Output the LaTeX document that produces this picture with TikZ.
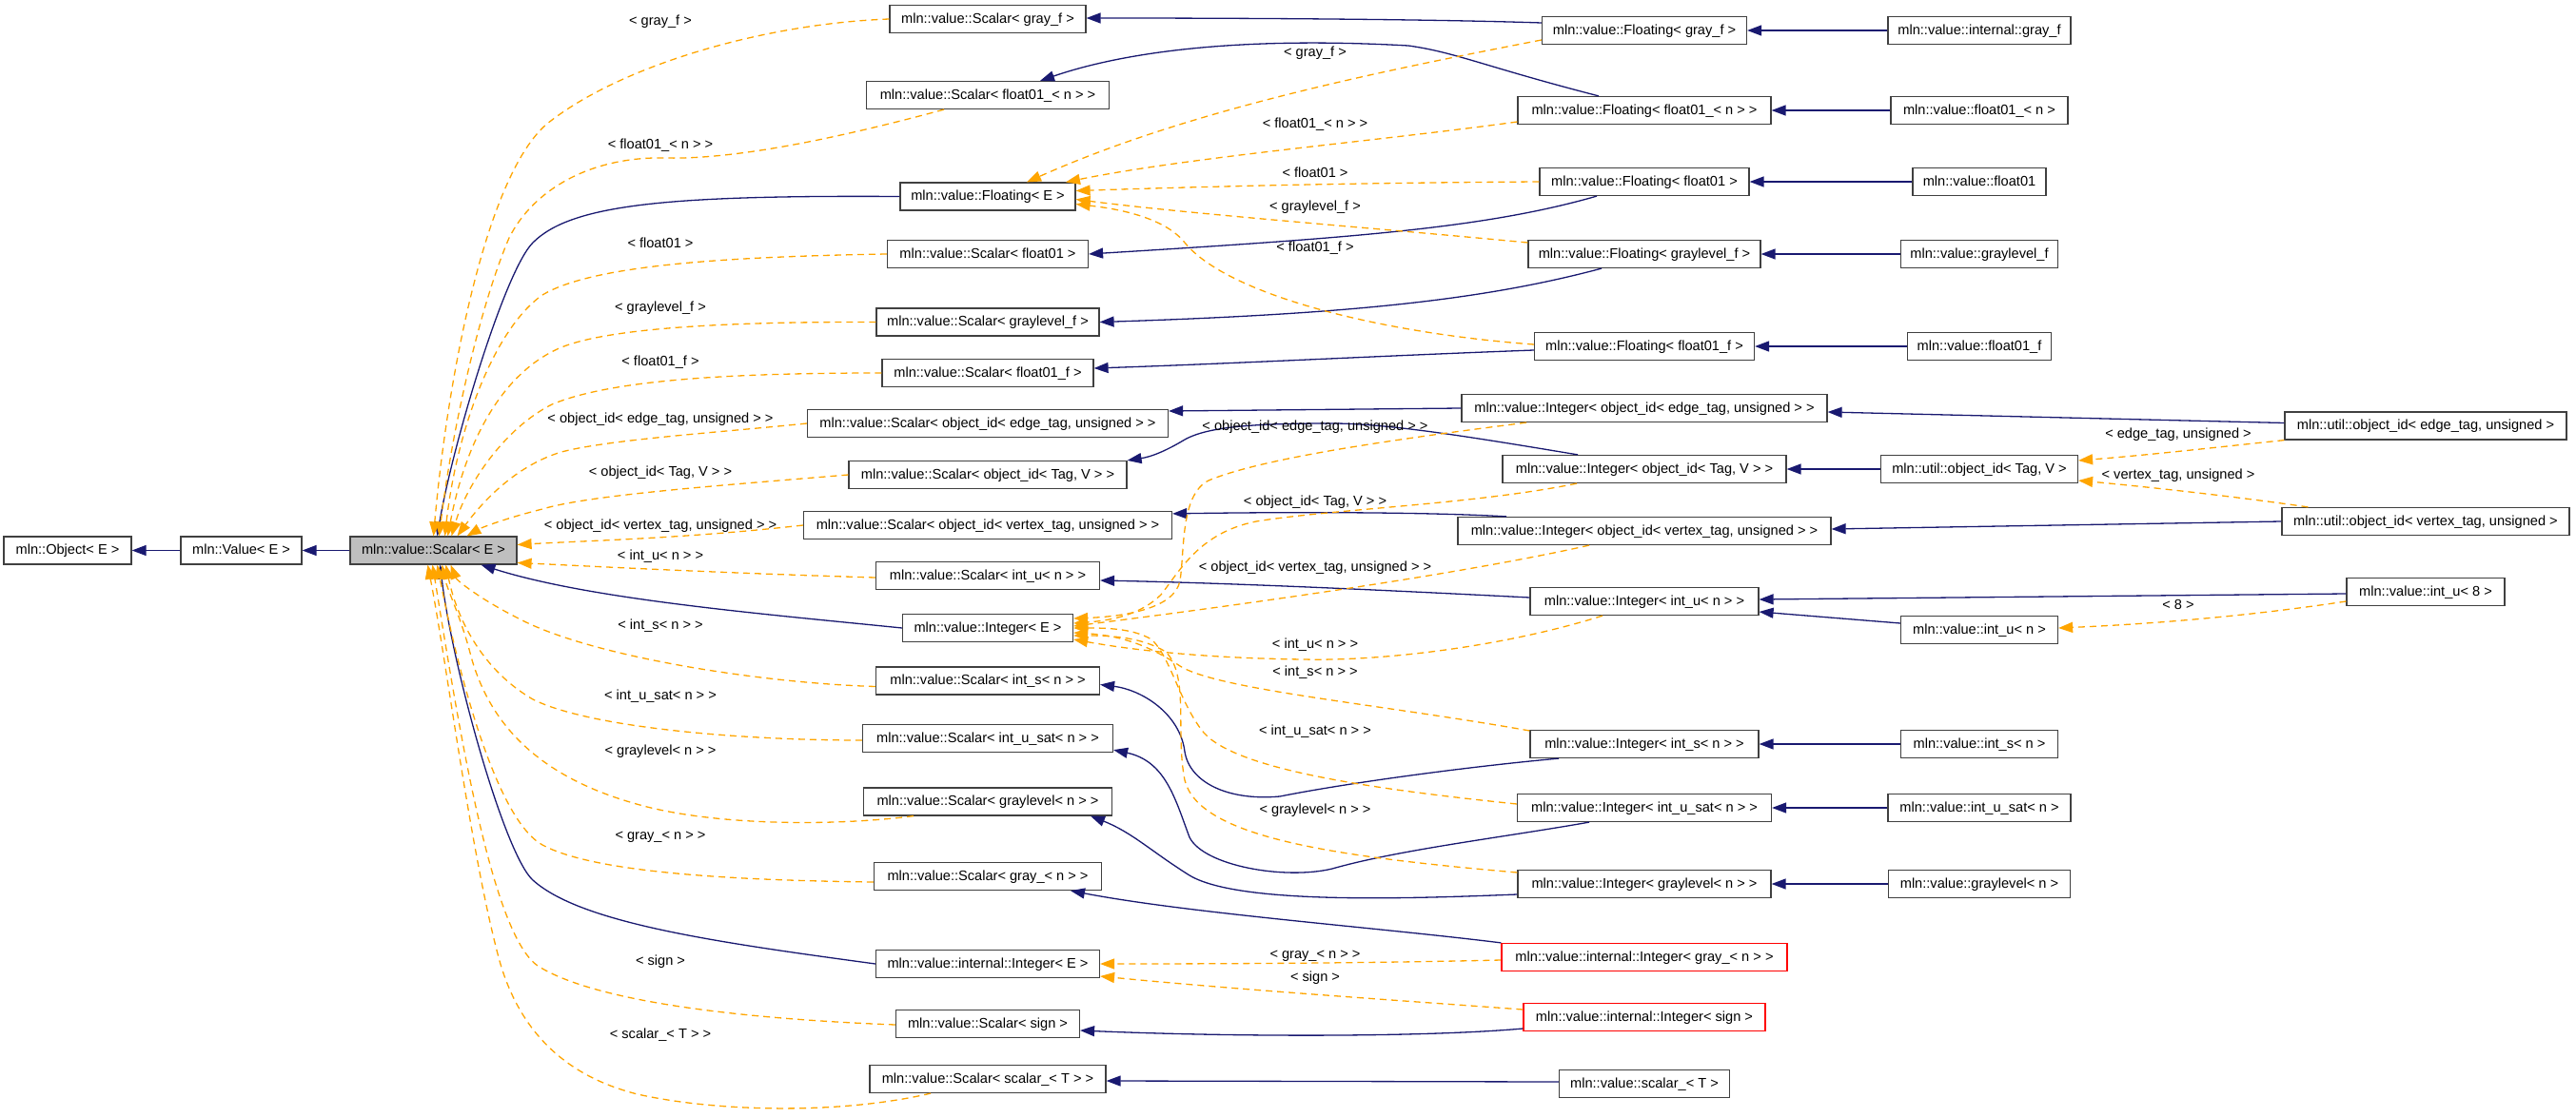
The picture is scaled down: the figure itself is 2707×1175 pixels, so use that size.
\documentclass[tikz,border=0pt]{standalone}
\usepackage{fontspec}
\setmainfont{Liberation Sans}
\usetikzlibrary{arrows.meta}
\definecolor{navy}{HTML}{191970}
\definecolor{orng}{HTML}{FFA500}
\definecolor{bord}{HTML}{404040}
\definecolor{grayfill}{HTML}{BFBFBF}
\tikzset{
 box/.style={draw=bord, line width=1.2pt, fill=white, minimum height=29pt, inner sep=0pt,
   text height=11pt, text depth=3pt, font=\fontsize{14.6}{17}\selectfont},
 redbox/.style={box, draw=red},
 lbl/.style={inner sep=0pt, text height=11pt, text depth=3pt, font=\fontsize{14.6}{17}\selectfont},
 inh/.style={draw=navy, line width=1.3pt, -{Triangle[length=15pt,width=11pt]}},
 tmpl/.style={draw=orng, line width=1.3pt, dash pattern=on 7pt off 5pt, -{Triangle[length=15pt,width=11pt]}},
}
\begin{document}
\begin{tikzpicture}[x=1pt,y=-1pt]
\useasboundingbox (0,0) rectangle (2707,1175);
% left column
\node[box, minimum width=134pt] (obj) at (71,578.5) {mln::Object< E >};
\node[box, minimum width=127pt] (val) at (253.5,578.5) {mln::Value< E >};
\node[box, minimum width=175pt, fill=grayfill] (sca) at (455.5,578.5) {mln::value::Scalar< E >};
% middle column
\node[box, minimum width=206pt] (sGF) at (1038,20) {mln::value::Scalar< gray\_f >};
\node[box, minimum width=255pt] (sF01n) at (1038,100) {mln::value::Scalar< float01\_< n > >};
\node[box, minimum width=184pt] (flE) at (1038,206.5) {mln::value::Floating< E >};
\node[box, minimum width=211pt] (sF01) at (1038,267) {mln::value::Scalar< float01 >};
\node[box, minimum width=234pt] (sGLf) at (1038,338.5) {mln::value::Scalar< graylevel\_f >};
\node[box, minimum width=222pt] (sF01f) at (1038,392) {mln::value::Scalar< float01\_f >};
\node[box, minimum width=379pt] (sOE) at (1038,445) {mln::value::Scalar< object\_id< edge\_tag, unsigned > >};
\node[box, minimum width=292pt] (sOT) at (1038,499) {mln::value::Scalar< object\_id< Tag, V > >};
\node[box, minimum width=387pt] (sOV) at (1038,552) {mln::value::Scalar< object\_id< vertex\_tag, unsigned > >};
\node[box, minimum width=235pt] (sIU) at (1038,605) {mln::value::Scalar< int\_u< n > >};
\node[box, minimum width=179pt] (inE) at (1038,660) {mln::value::Integer< E >};
\node[box, minimum width=235pt] (sIS) at (1038,715.5) {mln::value::Scalar< int\_s< n > >};
\node[box, minimum width=263pt] (sIUS) at (1038,776) {mln::value::Scalar< int\_u\_sat< n > >};
\node[box, minimum width=261pt] (sGL) at (1038,842.5) {mln::value::Scalar< graylevel< n > >};
\node[box, minimum width=239pt] (sG) at (1038,921) {mln::value::Scalar< gray\_< n > >};
\node[box, minimum width=235pt] (iiE) at (1038,1013) {mln::value::internal::Integer< E >};
\node[box, minimum width=193pt] (sS) at (1038,1076) {mln::value::Scalar< sign >};
\node[box, minimum width=248pt] (sST) at (1038,1134) {mln::value::Scalar< scalar\_< T > >};
% middle-right column
\node[box, minimum width=215pt] (fGF) at (1728,32) {mln::value::Floating< gray\_f >};
\node[box, minimum width=266pt] (fF01n) at (1728,116) {mln::value::Floating< float01\_< n > >};
\node[box, minimum width=220pt] (fF01) at (1728,191) {mln::value::Floating< float01 >};
\node[box, minimum width=244pt] (fGLf) at (1728,267) {mln::value::Floating< graylevel\_f >};
\node[box, minimum width=231pt] (fF01f) at (1728,364) {mln::value::Floating< float01\_f >};
\node[box, minimum width=384pt] (iOE) at (1728,429) {mln::value::Integer< object\_id< edge\_tag, unsigned > >};
\node[box, minimum width=298pt] (iOT) at (1728,493) {mln::value::Integer< object\_id< Tag, V > >};
\node[box, minimum width=392pt] (iOV) at (1728,558) {mln::value::Integer< object\_id< vertex\_tag, unsigned > >};
\node[box, minimum width=240pt] (iIU) at (1728,632) {mln::value::Integer< int\_u< n > >};
\node[box, minimum width=240pt] (iIS) at (1728,782) {mln::value::Integer< int\_s< n > >};
\node[box, minimum width=267pt] (iIUS) at (1728,849) {mln::value::Integer< int\_u\_sat< n > >};
\node[box, minimum width=266pt] (iGL) at (1728,929) {mln::value::Integer< graylevel< n > >};
\node[redbox, minimum width=300pt] (iiG) at (1728,1006) {mln::value::internal::Integer< gray\_< n > >};
\node[redbox, minimum width=254pt] (iiS) at (1728,1069) {mln::value::internal::Integer< sign >};
\node[box, minimum width=179pt] (sc) at (1728,1139) {mln::value::scalar\_< T >};
% right column
\node[box, minimum width=192pt] (gf) at (2080,32) {mln::value::internal::gray\_f};
\node[box, minimum width=186pt] (f01n) at (2080,116) {mln::value::float01\_< n >};
\node[box, minimum width=140pt] (f01) at (2080,191) {mln::value::float01};
\node[box, minimum width=165pt] (glf) at (2080,267) {mln::value::graylevel\_f};
\node[box, minimum width=151pt] (f01f) at (2080,364) {mln::value::float01\_f};
\node[box, minimum width=207pt] (uoT) at (2080,493) {mln::util::object\_id< Tag, V >};
\node[box, minimum width=165pt] (iun) at (2080,662) {mln::value::int\_u< n >};
\node[box, minimum width=165pt] (isn) at (2080,782) {mln::value::int\_s< n >};
\node[box, minimum width=192pt] (iusn) at (2080,849) {mln::value::int\_u\_sat< n >};
\node[box, minimum width=191pt] (gln) at (2080,929) {mln::value::graylevel< n >};
% far right
\node[box, minimum width=296pt] (uoE) at (2549,447.5) {mln::util::object\_id< edge\_tag, unsigned >};
\node[box, minimum width=302pt] (uoV) at (2549,548) {mln::util::object\_id< vertex\_tag, unsigned >};
\node[box, minimum width=166pt] (iu8) at (2549,622) {mln::value::int\_u< 8 >};

% ---- solid inheritance edges
\draw[inh] (val.west) -- (obj.east);
\draw[inh] (sca.west) -- (val.east);
\draw[inh] (flE.west) .. controls (700,205) and (600,215) .. (560,255) .. controls (530,285) and (475,470) .. ([xshift=4pt]sca.north);
\draw[inh] (inE.west) .. controls (800,645) and (620,630) .. ([xshift=50pt]sca.south);
\draw[inh] (iiE.west) .. controls (750,990) and (610,970) .. (560,925) .. controls (530,898) and (475,700) .. ([xshift=7pt]sca.south);

\draw[inh] ([yshift=8pt]fGF.west) .. controls (1500,20) and (1300,19) .. ([yshift=1pt]sGF.east);
\draw[inh] ([xshift=-48pt]fF01n.north) .. controls (1560,70) and (1530,55) .. (1480,48) .. controls (1300,38) and (1180,55) .. ([xshift=55pt]sF01n.north);
\draw[inh] ([xshift=-50pt]fF01.south) .. controls (1560,240) and (1420,250) .. (sF01.east);
\draw[inh] ([xshift=-45pt]fGLf.south) .. controls (1560,315) and (1420,330) .. (sGLf.east);
\draw[inh] ([yshift=-4pt]fF01f.west) .. controls (1450,374) and (1300,382) .. ([yshift=5pt]sF01f.east);
\draw[inh] (gf.west) -- (fGF.east);
\draw[inh] (f01n.west) -- (fF01n.east);
\draw[inh] (f01.west) -- (fF01.east);
\draw[inh] (glf.west) -- (fGLf.east);
\draw[inh] (f01f.west) -- (fF01f.east);

\draw[inh] (iOE.west) -- ([yshift=13pt]sOE.east);
\draw[inh] ([xshift=-70pt]iOT.north) .. controls (1550,460) and (1460,445) .. (1400,445) .. controls (1320,445) and (1270,448) .. (1245,462) .. controls (1225,474) and (1210,480) .. (sOT.north east);
\draw[inh] ([xshift=-145pt]iOV.north) .. controls (1500,538) and (1350,538) .. ([yshift=-3pt]sOV.north east);
\draw[inh] ([yshift=4pt]iIU.west) .. controls (1450,620) and (1300,613) .. ([yshift=-5pt]sIU.east);
\draw[inh] ([xshift=-90pt]iIS.south) .. controls (1550,805) and (1420,822) .. (1345,837) .. controls (1290,842) and (1250,822) .. (1245,790) .. controls (1240,750) and (1200,725) .. ([yshift=-4pt]sIS.east);
\draw[inh] ([xshift=-58pt]iIUS.south) .. controls (1580,880) and (1470,893) .. (1400,913) .. controls (1350,925) and (1265,910) .. (1250,880) .. controls (1235,840) and (1225,800) .. ([yshift=3pt]sIUS.south east);
\draw[inh] ([yshift=-11pt]iGL.west) .. controls (1470,945) and (1300,950) .. (1250,920) .. controls (1210,895) and (1190,875) .. ([xshift=108pt]sGL.south);
\draw[inh] (iiG.north west) .. controls (1450,975) and (1250,960) .. ([xshift=87pt]sG.south);
\draw[inh] ([yshift=-12pt]iiS.west) .. controls (1500,1090) and (1300,1090) .. ([yshift=-7pt]sS.east);
\draw[inh] ([yshift=2pt]sc.west) -- ([yshift=-2pt]sST.east);
\draw[inh] ([yshift=3pt]uoE.west) -- ([yshift=-4pt]iOE.east);
\draw[inh] (uoT.west) -- (iOT.east);
\draw[inh] (uoV.west) -- ([yshift=2pt]iOV.east);
\draw[inh] ([yshift=-2pt]iu8.west) -- ([yshift=2pt]iIU.east);
\draw[inh] ([yshift=7pt]iun.west) -- ([yshift=-11pt]iIU.east);
\draw[inh] (isn.west) -- (iIS.east);
\draw[inh] (iusn.west) -- (iIUS.east);
\draw[inh] (gln.west) -- (iGL.east);

% ---- dashed template edges to Scalar<E>
\draw[tmpl] (sGF.west) .. controls (800,25) and (650,70) .. (575,130) .. controls (510,185) and (470,400) .. (sca.north);
\draw[tmpl] ([xshift=-46pt]sF01n.south) .. controls (900,140) and (780,168) .. (700,166) .. controls (620,164) and (560,200) .. (535,250) .. controls (505,320) and (475,450) .. ([xshift=6pt]sca.north);
\draw[tmpl] (sF01.west) .. controls (750,270) and (620,280) .. (570,310) .. controls (520,345) and (480,450) .. ([xshift=12pt]sca.north);
\draw[tmpl] (sGLf.west) .. controls (760,338) and (640,345) .. (590,365) .. controls (530,390) and (490,460) .. ([xshift=15pt]sca.north);
\draw[tmpl] (sF01f.west) .. controls (760,392) and (640,400) .. (580,425) .. controls (530,450) and (490,510) .. ([xshift=19pt]sca.north);
\draw[tmpl] (sOE.west) .. controls (750,455) and (640,462) .. (590,475) .. controls (540,490) and (505,530) .. ([xshift=25pt]sca.north);
\draw[tmpl] (sOT.west) .. controls (760,510) and (620,520) .. (570,535) .. controls (530,545) and (505,555) .. ([xshift=35pt]sca.north);
\draw[tmpl] (sOV.west) .. controls (720,566) and (620,568) .. ([yshift=6pt]sca.east);
\draw[tmpl] ([yshift=-2pt]sIU.west) .. controls (750,602) and (620,595) .. ([yshift=-13pt]sca.east);
\draw[tmpl] ([yshift=-6pt]sIS.west) .. controls (800,718) and (620,690) .. (545,650) .. controls (505,630) and (480,610) .. ([xshift=18pt]sca.south);
\draw[tmpl] ([yshift=-2pt]sIUS.west) .. controls (780,778) and (620,765) .. (560,735) .. controls (500,700) and (478,640) .. ([xshift=13pt]sca.south);
\draw[tmpl] ([xshift=-78pt]sGL.south) .. controls (880,868) and (760,868) .. (680,848) .. controls (590,825) and (520,780) .. (495,690) .. controls (485,650) and (470,620) .. ([xshift=9pt]sca.south);
\draw[tmpl] ([yshift=-6pt]sG.west) .. controls (750,925) and (620,915) .. (570,888) .. controls (520,860) and (480,700) .. ([xshift=4pt]sca.south);
\draw[tmpl] ([yshift=-1pt]sS.west) .. controls (760,1070) and (620,1050) .. (565,1015) .. controls (515,980) and (480,750) .. ([xshift=-1pt]sca.south);
\draw[tmpl] ([xshift=-60pt]sST.south) .. controls (880,1172) and (750,1168) .. (670,1150) .. controls (590,1130) and (545,1080) .. (525,1010) .. controls (495,900) and (470,700) .. ([xshift=-6pt]sca.south);

% ---- dashed to Floating<E>
\draw[tmpl] ([yshift=-10pt]fGF.west) .. controls (1450,75) and (1250,115) .. ([xshift=41pt]flE.north);
\draw[tmpl] ([yshift=-12pt]fF01n.west) .. controls (1450,148) and (1250,165) .. ([xshift=82pt]flE.north);
\draw[tmpl] (fF01.west) .. controls (1450,192) and (1300,195) .. ([yshift=6pt]flE.east);
\draw[tmpl] ([yshift=12pt]fGLf.west) .. controls (1450,240) and (1250,225) .. ([yshift=-3pt]flE.east);
\draw[tmpl] ([yshift=2pt]fF01f.west) .. controls (1450,350) and (1290,310) .. (1245,255) .. controls (1225,230) and (1180,220) .. ([yshift=-8pt]flE.east);

% ---- dashed to Integer<E>
\draw[tmpl] ([xshift=-124pt]iOE.south) .. controls (1480,460) and (1330,480) .. (1270,505) .. controls (1240,520) and (1245,580) .. (1240,610) .. controls (1235,640) and (1180,648) .. ([yshift=10pt]inE.east);
\draw[tmpl] ([xshift=-71pt]iOT.south) .. controls (1550,530) and (1400,535) .. (1320,548) .. controls (1260,560) and (1240,600) .. (1220,625) .. controls (1200,645) and (1170,652) .. ([yshift=5pt]inE.east);
\draw[tmpl] ([xshift=-58pt]iOV.south) .. controls (1550,600) and (1350,630) .. ([yshift=2pt]inE.east);
\draw[tmpl] ([xshift=-44pt]iIU.south) .. controls (1580,680) and (1450,695) .. (1370,693) .. controls (1280,692) and (1200,685) .. ([yshift=-12pt]inE.east);
\draw[tmpl] ([yshift=14pt]iIS.west) .. controls (1450,740) and (1280,725) .. (1240,700) .. controls (1210,680) and (1180,668) .. ([yshift=-5pt]inE.east);
\draw[tmpl] ([yshift=4pt]iIUS.west) .. controls (1450,830) and (1300,810) .. (1265,770) .. controls (1240,740) and (1230,690) .. (1210,672) .. controls (1190,660) and (1160,660) .. (inE.east);
\draw[tmpl] ([yshift=12pt]iGL.west) .. controls (1400,900) and (1260,880) .. (1245,820) .. controls (1235,770) and (1250,710) .. (1225,685) .. controls (1200,670) and (1170,668) .. ([yshift=-8pt]inE.east);

% ---- dashed to internal::Integer<E>
\draw[tmpl] ([yshift=-3pt]iiG.west) .. controls (1450,1012) and (1300,1013) .. (iiE.east);
\draw[tmpl] ([yshift=8pt]iiS.west) .. controls (1450,1050) and (1300,1040) .. ([yshift=-13pt]iiE.east);

% ---- dashed util / int_u
\draw[tmpl] (uoE.south west) .. controls (2330,470) and (2260,478) .. ([yshift=9pt]uoT.east);
\draw[tmpl] ([xshift=28pt]uoV.north west) .. controls (2350,522) and (2260,512) .. ([yshift=-12pt]uoT.east);
\draw[tmpl] ([yshift=-10pt]iu8.west) .. controls (2380,645) and (2280,655) .. ([yshift=2pt]iun.east);

% ---- labels
\node[lbl] (l1) at (694,22) {< gray\_f >};
\node[lbl] (l2) at (694,152) {< float01\_< n > >};
\node[lbl] (l3) at (694,256) {< float01 >};
\node[lbl] (l4) at (694,323) {< graylevel\_f >};
\node[lbl] (l5) at (694,380) {< float01\_f >};
\node[lbl] (l6) at (694,440) {< object\_id< edge\_tag, unsigned > >};
\node[lbl] (l7) at (694,496) {< object\_id< Tag, V > >};
\node[lbl] (l8) at (694,552) {< object\_id< vertex\_tag, unsigned > >};
\node[lbl] (l9) at (694,584) {< int\_u< n > >};
\node[lbl] (l10) at (694,657) {< int\_s< n > >};
\node[lbl] (l11) at (694,731) {< int\_u\_sat< n > >};
\node[lbl] (l12) at (694,789) {< graylevel< n > >};
\node[lbl] (l13) at (694,878) {< gray\_< n > >};
\node[lbl] (l14) at (694,1010) {< sign >};
\node[lbl] (l15) at (694,1087) {< scalar\_< T > >};

\node[lbl] (m1) at (1382,55) {< gray\_f >};
\node[lbl] (m2) at (1382,130) {< float01\_< n > >};
\node[lbl] (m3) at (1382,182) {< float01 >};
\node[lbl] (m4) at (1382,217) {< graylevel\_f >};
\node[lbl] (m5) at (1382,260) {< float01\_f >};
\node[lbl] (m6) at (1382,448) {< object\_id< edge\_tag, unsigned > >};
\node[lbl] (m7) at (1382,527) {< object\_id< Tag, V > >};
\node[lbl] (m8) at (1382,596) {< object\_id< vertex\_tag, unsigned > >};
\node[lbl] (m9) at (1382,677) {< int\_u< n > >};
\node[lbl] (m10) at (1382,706) {< int\_s< n > >};
\node[lbl] (m11) at (1382,768) {< int\_u\_sat< n > >};
\node[lbl] (m12) at (1382,851) {< graylevel< n > >};
\node[lbl] (m13) at (1382,1003) {< gray\_< n > >};
\node[lbl] (m14) at (1382,1027) {< sign >};

\node[lbl] (r1) at (2289,456) {< edge\_tag, unsigned >};
\node[lbl] (r2) at (2289,499) {< vertex\_tag, unsigned >};
\node[lbl] (r3) at (2289,636) {< 8 >};
\end{tikzpicture}
\end{document}
